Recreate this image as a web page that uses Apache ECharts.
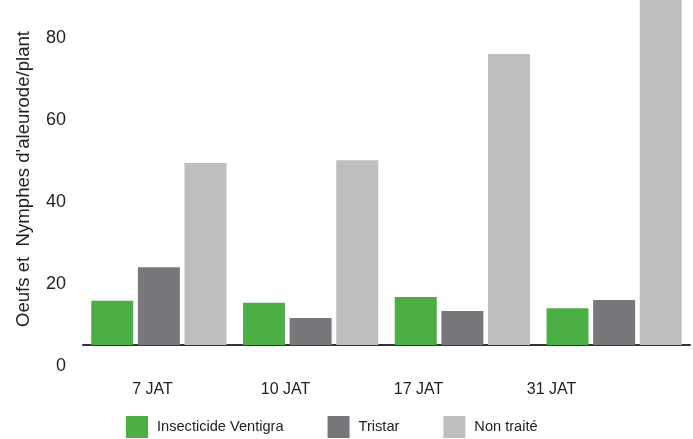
<!DOCTYPE html>
<html>
<head>
<meta charset="utf-8">
<script src="https://cdn.jsdelivr.net/npm/echarts@6/dist/echarts.min.js"></script>
<style>html,body{margin:0;padding:0;background:#fff}#c{width:693px;height:439px}</style>
</head>
<body>
<div id="c"></div>
<script>
const categories = ['7 JAT', '10 JAT', '17 JAT', '31 JAT'];
const seriesNames = ['Insecticide Ventigra', 'Tristar', 'Non traité'];
const ventigra = [15.9, 15.4, 16.8, 14.1];
const tristar = [24.1, 11.7, 13.4, 16.1];
const nonTraite = [49.5, 50.2, 76.1, 92];
const yTicks = [0, 20, 40, 60, 80];
const yTitle = "Oeufs et  Nymphes d'aleurode/plant";
const colors = ['#4caf45', '#78787c', '#bdbec0'];

// layout: label scale has 0 at y=366 and 80 at y=38; bars' baseline drawn at y=345
const zeroY = 366, topLabelY = 38, baseY = 345, H = 439;
const ppu = (zeroY - topLabelY) / (yTicks[yTicks.length - 1] - yTicks[0]);
const barMin = (zeroY - baseY) / ppu;
const barMax = zeroY / ppu;

const chart = echarts.init(document.getElementById('c'), null, {renderer: 'canvas'});
const font = 'Liberation Sans, Arial, sans-serif';
const data = [ventigra, tristar, nonTraite];
chart.setOption({
  animation: false,
  textStyle: {fontFamily: font, color: '#222'},
  grid: [
    {left: 83, right: 3, top: 0, bottom: H - baseY},
    {left: 86, right: 75, top: topLabelY, bottom: H - zeroY}
  ],
  xAxis: [
    {type: 'category', gridIndex: 0, data: categories,
     axisLine: {lineStyle: {color: '#333', width: 2}},
     axisTick: {show: false}, axisLabel: {show: false}},
    {type: 'category', gridIndex: 1, data: categories,
     axisLine: {show: false}, axisTick: {show: false},
     axisLabel: {margin: 16, fontSize: 16, color: '#222', fontFamily: font}}
  ],
  yAxis: [
    {type: 'value', gridIndex: 0, min: barMin, max: barMax,
     axisLine: {show: false}, axisTick: {show: false}, axisLabel: {show: false},
     splitLine: {show: false},
     name: yTitle, nameLocation: 'middle', nameRotate: 90, nameGap: 50,
     nameTextStyle: {fontSize: 18.6, color: '#222', fontFamily: font, padding: [0, 13, 0, 0]}},
    {type: 'value', gridIndex: 1, min: yTicks[0], max: yTicks[yTicks.length - 1], interval: 20,
     axisLine: {show: false}, axisTick: {show: false}, splitLine: {show: false},
     axisLabel: {margin: 20, fontSize: 18, color: '#222', fontFamily: font}}
  ],
  legend: {
    data: seriesNames, left: 126, top: 416, padding: 0, itemWidth: 22, itemHeight: 22, itemGap: 44,
    icon: 'rect', selectedMode: false,
    textStyle: {fontSize: 14.6, color: '#222', fontFamily: font, padding: [0, 0, 0, 4]}
  },
  series: seriesNames.map((n, i) => ({
    name: n, type: 'bar', xAxisIndex: 0, yAxisIndex: 0, data: data[i],
    barWidth: 42, barGap: '11%', clip: true,
    itemStyle: {color: colors[i]}, emphasis: {disabled: true}
  }))
});
</script>
</body>
</html>
